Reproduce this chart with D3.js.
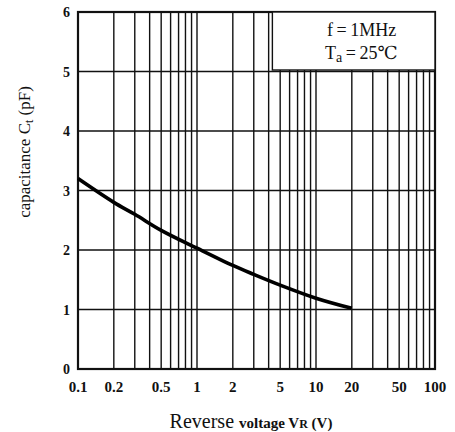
<!DOCTYPE html>
<html>
<head>
<meta charset="utf-8">
<script src="https://cdn.jsdelivr.net/npm/d3@7"></script>
<style>
	body { margin: 0; background: #fff; }
	svg { display: block; }
	.tick-label { font-family: "Liberation Serif", "DejaVu Serif", serif; font-size: 15px; font-weight: bold; fill: #111; }
	.grid line { stroke: #111; stroke-width: 1.4; }
</style>
</head>
<body>
<div id="chart"></div>
<script>

// curve: reverse voltage (V) vs capacitance (pF)
var voltage     = [0.1, 0.2, 0.3, 0.5, 1, 2, 3, 5, 10, 20];
var capacitance = [3.2, 2.80, 2.60, 2.33, 2.03, 1.74, 1.59, 1.41, 1.19, 1.02];

var xTickValues = [0.1, 0.2, 0.5, 1, 2, 5, 10, 20, 50, 100];
var xTickLabels = ["0.1", "0.2", "0.5", "1", "2", "5", "10", "20", "50", "100"];
var yTickValues = [0, 1, 2, 3, 4, 5, 6];

var width = 455, height = 432;
var pLeft = 78, pRight = 435, pTop = 12, pBottom = 369;

var svg = d3.select("#chart").append("svg")
	.attr("width", width).attr("height", height);

var x = d3.scaleLog().domain([0.1, 100]).range([pLeft, pRight]);
var y = d3.scaleLinear().domain([0, 6]).range([pBottom, pTop]);

// vertical log grid (1..9 every decade)
svg.append("g")
	.attr("class", "grid")
	.selectAll("line")
	.data(x.ticks())
	.enter().append("line")
	.attr("x1", function(d){ return x(d); })
	.attr("x2", function(d){ return x(d); })
	.attr("y1", pTop)
	.attr("y2", pBottom);

// horizontal grid
svg.append("g")
	.attr("class", "grid")
	.selectAll("line")
	.data(yTickValues)
	.enter().append("line")
	.attr("x1", pLeft)
	.attr("x2", pRight)
	.attr("y1", function(d){ return y(d); })
	.attr("y2", function(d){ return y(d); });

// frame
svg.append("rect")
	.attr("x", pLeft).attr("y", pTop)
	.attr("width", pRight - pLeft).attr("height", pBottom - pTop)
	.attr("fill", "none").attr("stroke", "#111").attr("stroke-width", 2.2);

// conditions box
var box = svg.append("g");
box.append("rect")
	.attr("x", x(4.3)).attr("y", y(6))
	.attr("width", pRight - x(4.3)).attr("height", y(5) - y(6) - 1.5)
	.attr("fill", "#fff").attr("stroke", "#111").attr("stroke-width", 1.4);
var fam = "'Liberation Serif', 'DejaVu Serif', serif";
box.append("text")
	.attr("x", 327).attr("y", 36)
	.style("font-family", fam).style("font-size", "18px").style("fill", "#111")
	.text("f\u2009=\u20091MHz");
var ta = box.append("text")
	.attr("x", 325).attr("y", 59)
	.style("font-family", fam).style("font-size", "18px").style("fill", "#111");
ta.append("tspan").text("T");
ta.append("tspan").attr("dy", 3).style("font-size", "14px").text("a");
ta.append("tspan").attr("dy", -3).text("\u2009=\u200925\u2103");

// curve
var line = d3.line()
	.x(function(d, i){ return x(voltage[i]); })
	.y(function(d){ return y(d); })
	.curve(d3.curveCatmullRom.alpha(0.5));

svg.append("path")
	.datum(capacitance)
	.attr("d", line)
	.attr("fill", "none")
	.attr("stroke", "#000")
	.attr("stroke-width", 3.6)
	.attr("stroke-linecap", "butt");

// y tick labels
svg.append("g").selectAll("text")
	.data(yTickValues)
	.enter().append("text")
	.attr("class", "tick-label")
	.attr("x", 70)
	.attr("y", function(d){ return y(d) + 5; })
	.attr("text-anchor", "end")
	.style("font-size", "14px")
	.text(function(d){ return d; });

// x tick labels
svg.append("g").selectAll("text")
	.data(xTickValues)
	.enter().append("text")
	.attr("class", "tick-label")
	.attr("x", function(d){ return x(d); })
	.attr("y", 392)
	.attr("text-anchor", "middle")
	.text(function(d, i){ return xTickLabels[i]; });

// x axis title
var xt = svg.append("text")
	.attr("x", 251).attr("y", 428)
	.attr("text-anchor", "middle")
	.style("font-family", fam).style("fill", "#111");
xt.append("tspan").style("font-size", "20px").text("Reverse ");
xt.append("tspan").style("font-size", "15px").style("font-weight", "bold").text("voltage  V");
xt.append("tspan").style("font-size", "12px").style("font-weight", "bold").text("R");
xt.append("tspan").style("font-size", "15px").style("font-weight", "bold").text(" (V)");

// y axis title
var yt = svg.append("text")
	.attr("transform", "translate(30,152) rotate(-90)")
	.attr("text-anchor", "middle")
	.style("font-family", fam).style("font-size", "17px").style("fill", "#111");
yt.append("tspan").text("capacitance  C");
yt.append("tspan").attr("dy", 3).style("font-size", "12px").text("t");
yt.append("tspan").attr("dy", -3).text("  (pF)");

</script>
</body>
</html>
